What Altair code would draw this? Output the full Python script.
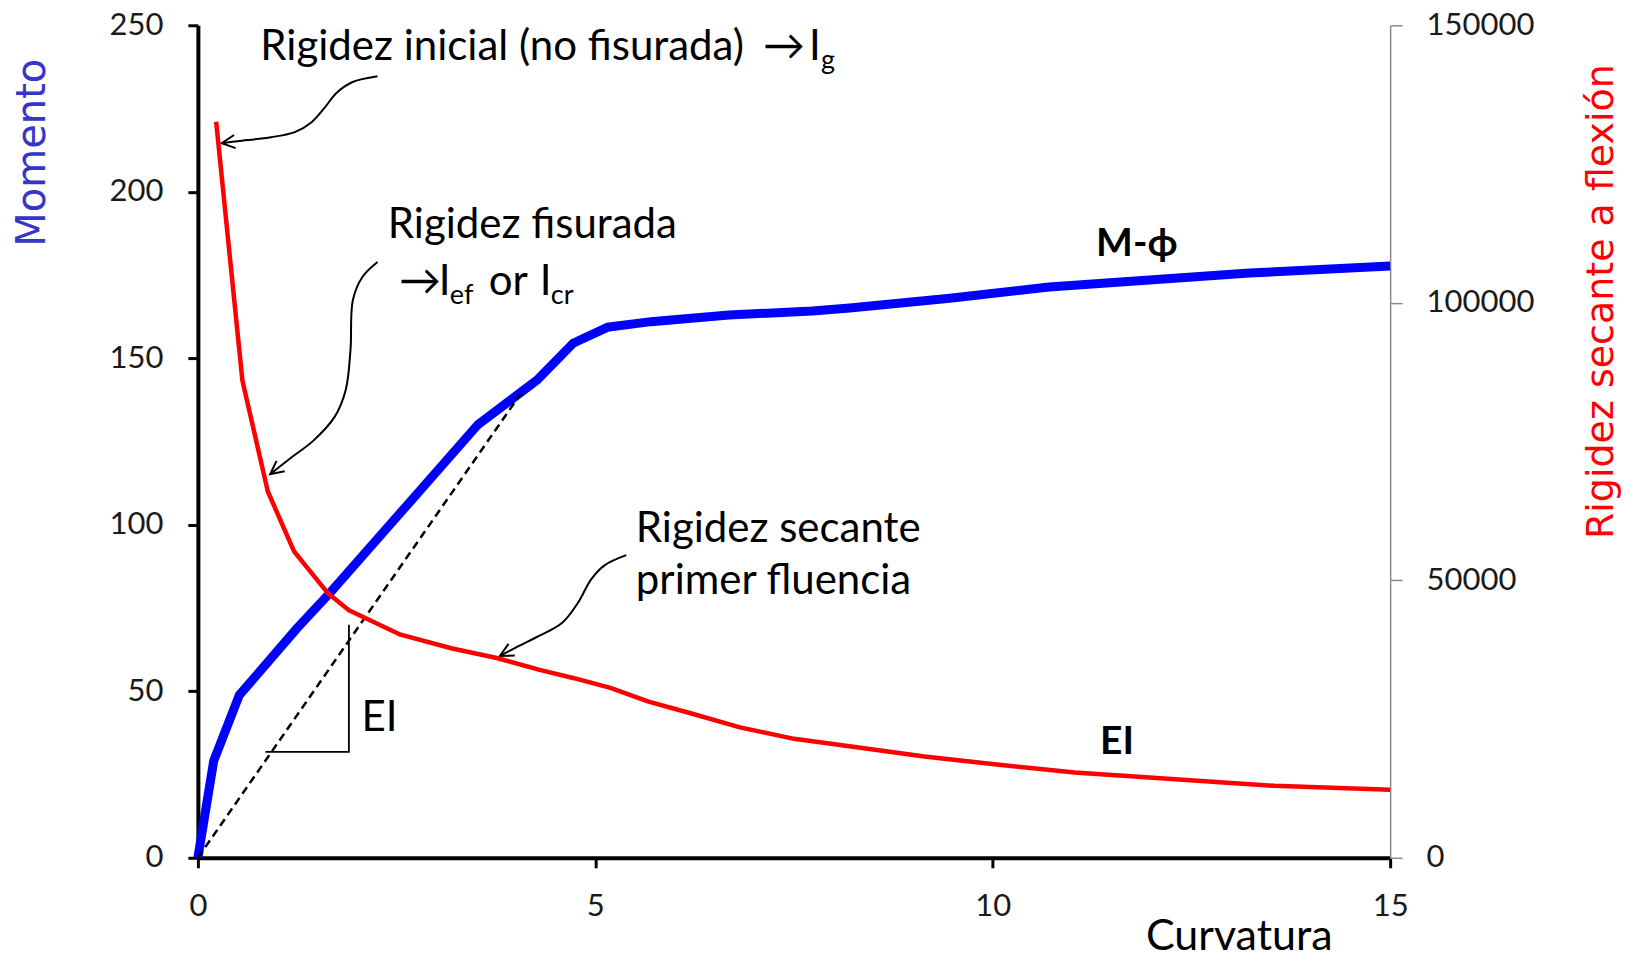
import altair as alt
import pandas as pd

# --- M-phi curve (left axis) ---
curv_m = [0, 0.2, 0.52, 1.25, 1.66, 2.6, 3.52, 4.27, 4.72, 5.15, 5.7, 6.68, 7.73, 8.2, 9.46, 10.71, 11.97, 13.23, 15]
momento = [0, 29.2, 48.8, 69, 79.5, 105, 130, 143.5, 154.5, 159.3, 161, 163, 164.2, 165.1, 168, 171.4, 173.5, 175.6, 177.7]

# --- secant stiffness EI (right axis) ---
curv_ei = [0.23, 0.56, 0.88, 1.21, 1.64, 1.9, 2.55, 3.2, 3.76, 4.3, 4.72, 5.19, 5.67, 6.21, 6.82, 7.5, 8.15, 9.14, 10.08, 11.03, 11.97, 13.54, 15]
ei = [132600, 86000, 66000, 55200, 47600, 44600, 40200, 37700, 36000, 33850, 32400, 30600, 28130, 26000, 23500, 21430, 20200, 18240, 16750, 15360, 14450, 12960, 12250]

# --- secant to first yield (dashed) ---
sec_x = [0, 4.06]
sec_y = [0, 139.3]

# --- slope triangle ---
tri_x = [0.85, 1.9, 1.9]
tri_y = [31.8, 31.8, 70]

# --- curved annotation arrows ---
arrow1_x = [2.26, 1.94, 1.74, 1.60, 1.43, 1.22, 0.92, 0.50, 0.30]
arrow1_y = [234.7, 232.9, 229.6, 225.4, 220.9, 217.9, 216.4, 215.2, 214.6]
arrow2_x = [2.26, 2.07, 1.95, 1.92, 1.86, 1.72, 1.45, 1.18, 0.91]
arrow2_y = [178.9, 174.4, 167.5, 152.5, 140.5, 132.4, 125.2, 120.3, 115.2]
arrow3_x = [5.39, 5.12, 4.95, 4.78, 4.58, 4.24, 4.04, 3.80]
arrow3_y = [90.9, 87.9, 83.7, 76.5, 70.5, 66.0, 63.6, 60.6]
head_angle = [173, 142, 152]

# --- annotation texts ---
main_text = ["Rigidez inicial (no fisurada)", "\u2192", "I", "Rigidez fisurada", "\u2192", "I", "or", "I",
             "Rigidez secante", "primer fluencia", "EI"]
main_x = [0.786, 7.11, 7.69, 2.39, 2.53, 3.03, 3.66, 4.30, 5.51, 5.51, 2.06]
main_y = [239.5, 239.5, 239.5, 186.1, 169.0, 169.0, 169.0, 169.0, 94.8, 79.2, 38.1]
sub_text = ["g", "ef", "cr"]
sub_x = [7.84, 3.17, 4.44]
sub_y = [237.0, 166.2, 166.2]
bold_text = ["M-\u03d5", "EI"]
bold_x = [11.30, 11.35]
bold_y = [180.7, 31.2]

FONT = "Lato"

x_axis = alt.Axis(values=[0, 5, 10, 15], grid=False, tickSize=10, tickWidth=3, tickColor="black",
                  domainColor="black", domainWidth=4, labelFont=FONT, labelFontSize=31,
                  labelColor="#1a1a1a", labelPadding=24, labelFlush=False,
                  title="Curvatura", titleFont=FONT, titleFontSize=43, titleFontWeight="normal",
                  titleColor="black", titleX=1135, titleY=92, titleAlign="right",
                  titleBaseline="alphabetic")
y_left_axis = alt.Axis(values=[0, 50, 100, 150, 200, 250], grid=False, tickSize=10, tickWidth=3,
                       tickColor="black", domainColor="black", domainWidth=4, labelFont=FONT,
                       labelFontSize=31, labelColor="#1a1a1a", labelPadding=25, labelFlush=False,
                       title="Momento", titleFont="DejaVu Sans", titleFontSize=40,
                       titleFontWeight="normal", titleColor="#3535c8", titleAngle=270,
                       titleX=-153, titleY=127, titleAlign="center", titleBaseline="alphabetic")
y_right_axis = alt.Axis(orient="right", values=[0, 50000, 100000, 150000], format="d", grid=False,
                        tickSize=12, tickWidth=1.5, tickColor="#8c8c8c", domainColor="#8c8c8c",
                        domainWidth=1.5, labelFont=FONT, labelFontSize=31, labelColor="#1a1a1a",
                        labelPadding=24, labelFlush=False,
                        title="Rigidez secante a flexi\u00f3n", titleFont="DejaVu Sans",
                        titleFontSize=38, titleFontWeight="normal", titleColor="#ff0000",
                        titleAngle=270, titleX=222, titleY=276, titleAlign="center",
                        titleBaseline="alphabetic")

X = alt.X("x:Q", scale=alt.Scale(domain=[0, 15]), axis=x_axis)
Y = alt.Y("y:Q", scale=alt.Scale(domain=[0, 250]), axis=y_left_axis)

df_m = pd.DataFrame({"x": curv_m, "y": momento})
df_sec = pd.DataFrame({"x": sec_x, "y": sec_y})
df_tri = pd.DataFrame({"x": tri_x, "y": tri_y, "o": list(range(len(tri_x)))})

rows = []
for i, (ax, ay) in enumerate([(arrow1_x, arrow1_y), (arrow2_x, arrow2_y), (arrow3_x, arrow3_y)]):
    for j, (a, b) in enumerate(zip(ax, ay)):
        rows.append({"id": i, "o": j, "x": a, "y": b})
df_arrows = pd.DataFrame(rows)
df_heads = pd.DataFrame({"x": [arrow1_x[-1], arrow2_x[-1], arrow3_x[-1]],
                         "y": [arrow1_y[-1], arrow2_y[-1], arrow3_y[-1]],
                         "a": head_angle})
df_main = pd.DataFrame({"x": main_x, "y": main_y, "t": main_text})
df_sub = pd.DataFrame({"x": sub_x, "y": sub_y, "t": sub_text})
df_bold = pd.DataFrame({"x": bold_x, "y": bold_y, "t": bold_text})
df_ei = pd.DataFrame({"x": curv_ei, "ei": ei})

blue = alt.Chart(df_m).mark_line(color="#0000ff", strokeWidth=9, strokeJoin="round").encode(x=X, y=Y)
secant = alt.Chart(df_sec).mark_line(color="black", strokeWidth=2.5, strokeDash=[8, 5]).encode(x=X, y=Y)
tri = alt.Chart(df_tri).mark_line(color="black", strokeWidth=1.8).encode(x=X, y=Y, order="o:Q")
arrows = alt.Chart(df_arrows).mark_line(color="black", strokeWidth=2, interpolate="catmull-rom").encode(
    x=X, y=Y, detail="id:N", order="o:Q")
heads = alt.Chart(df_heads).mark_point(shape="M -1 -0.5 L 0 0 L -1 0.5", filled=False, color="black",
                                       strokeWidth=2, size=700, opacity=1).encode(
    x=X, y=Y, angle=alt.Angle("a:Q", scale=None))
txt_main = alt.Chart(df_main).mark_text(align="left", baseline="alphabetic", font=FONT, fontSize=42,
                                        color="black").encode(x=X, y=Y, text="t:N")
txt_sub = alt.Chart(df_sub).mark_text(align="left", baseline="alphabetic", font=FONT, fontSize=27,
                                      color="black").encode(x=X, y=Y, text="t:N")
txt_bold = alt.Chart(df_bold).mark_text(align="left", baseline="alphabetic", font=FONT, fontSize=39,
                                        fontWeight="bold", color="black").encode(x=X, y=Y, text="t:N")

left = alt.layer(blue, secant, tri, arrows, heads, txt_main, txt_sub, txt_bold)

red = alt.Chart(df_ei).mark_line(color="#ff0000", strokeWidth=4.5, strokeJoin="round").encode(
    x=X, y=alt.Y("ei:Q", scale=alt.Scale(domain=[0, 150000]), axis=y_right_axis))

chart = alt.layer(left, red).resolve_scale(y="independent").properties(
    width=1193, height=833,
    padding={"left": 190, "top": 17, "right": 236, "bottom": 100},
    autosize=alt.AutoSizeParams(type="none"),
    background="white",
).configure_view(stroke=None)

chart.save("out.html", embed_options={"renderer": "svg", "actions": False})
